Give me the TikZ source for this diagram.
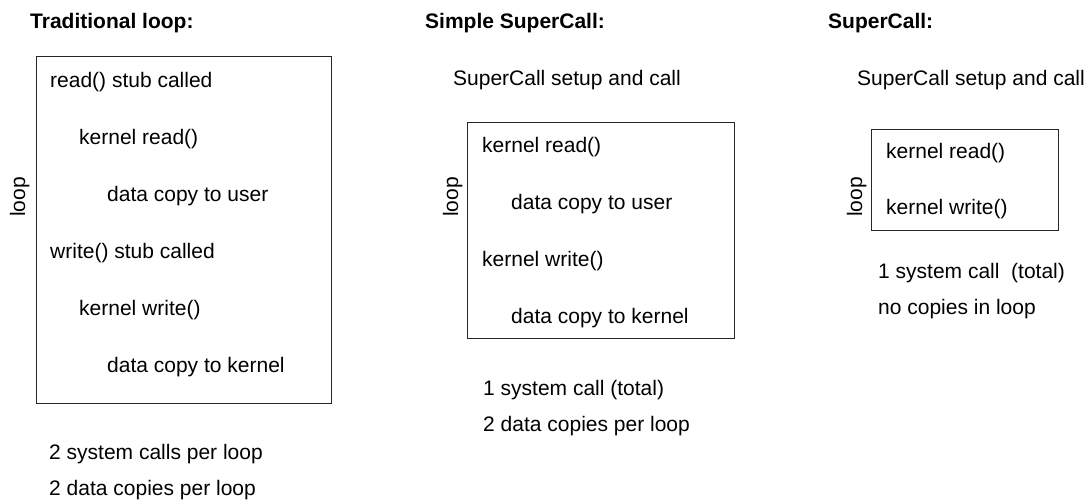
\documentclass[tikz,border=0pt]{standalone}
\usepackage{fontspec}
\setmainfont{Liberation Sans}
\begin{document}
\begin{tikzpicture}[x=1pt,y=-1pt,
  txt/.style={anchor=base west,inner sep=0pt,font=\fontsize{21}{25}\selectfont},
  ttl/.style={anchor=base west,inner sep=0pt,font=\fontsize{21}{25}\selectfont\bfseries},
  looplbl/.style={anchor=base,inner sep=0pt,rotate=90,font=\fontsize{21}{25}\selectfont},
  frame/.style={draw=black!85,line width=1pt}]
\useasboundingbox (0,0) rectangle (1091,503);
% Panel 1
\node[ttl] (t1) at (30,29) {Traditional loop:};
\draw[frame] (36,57) rectangle (331,403);
\node[looplbl] (l1) at (25,197) {loop};
\node[txt] (a1) at (50,87) {read() stub called};
\node[txt] (a2) at (79,144) {kernel read()};
\node[txt] (a3) at (107,201) {data copy to user};
\node[txt] (a4) at (50,258) {write() stub called};
\node[txt] (a5) at (79,315) {kernel write()};
\node[txt] (a6) at (107,372) {data copy to kernel};
\node[txt] (s1) at (49,459) {2 system calls per loop};
\node[txt] (s2) at (49,495) {2 data copies per loop};
% Panel 2
\node[ttl] (t2) at (425,29) {Simple SuperCall:};
\node[txt] (u2) at (453,85) {SuperCall setup and call};
\draw[frame] (467,122) rectangle (734,338);
\node[looplbl] (l2) at (458,197) {loop};
\node[txt] (b1) at (482,152) {kernel read()};
\node[txt] (b2) at (511,209) {data copy to user};
\node[txt] (b3) at (482,266) {kernel write()};
\node[txt] (b4) at (511,323) {data copy to kernel};
\node[txt] (m1) at (483,395) {1 system call (total)};
\node[txt] (m2) at (483,431) {2 data copies per loop};
% Panel 3
\node[ttl] (t3) at (828,29) {SuperCall:};
\node[txt] (u3) at (857,85) {SuperCall setup and call};
\draw[frame] (871,129) rectangle (1058,230);
\node[looplbl] (l3) at (862,197) {loop};
\node[txt] (c1) at (886,158) {kernel read()};
\node[txt] (c2) at (886,214) {kernel write()};
\node[txt] (r1) at (878,278) {1 system call\ \ (total)};
\node[txt] (r2) at (878,314) {no copies in loop};
\end{tikzpicture}
\end{document}
